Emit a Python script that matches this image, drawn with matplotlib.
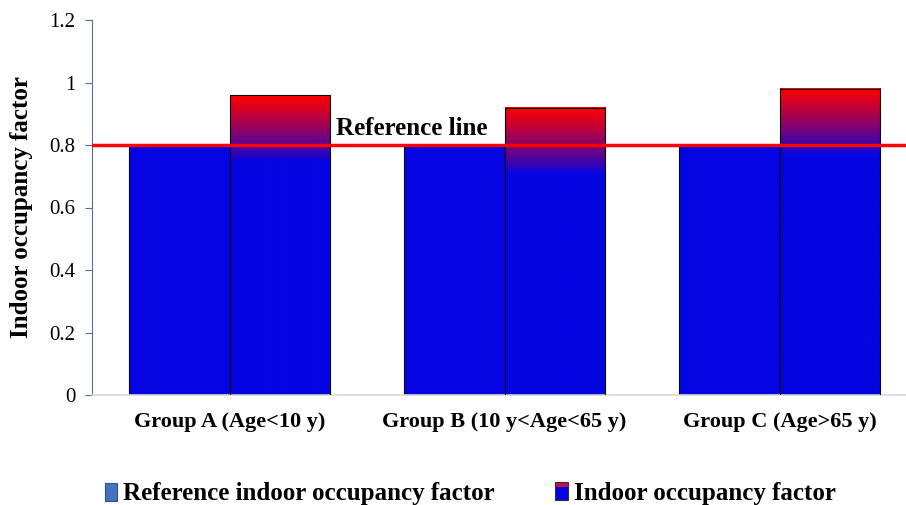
import matplotlib
matplotlib.use("Agg")
import matplotlib.pyplot as plt
import numpy as np
from matplotlib.patches import Rectangle, Patch
from matplotlib.legend_handler import HandlerBase

# ── data ─────────────────────────────────────────────────────────────────────
groups = ["Group A (Age<10 y)", "Group B (10 y<Age<65 y)", "Group C (Age>65 y)"]
reference_factor = [0.8, 0.8, 0.8]
indoor_factor = [0.96, 0.92, 0.98]
reference_line = 0.8
y_ticks = [0, 0.2, 0.4, 0.6, 0.8, 1.0, 1.2]
y_tick_labels = ["0", "0.2", "0.4", "0.6", "0.8", "1", "1.2"]

BLUE = "#0505e3"
RED = "#ff0000"
SERIF = ["Liberation Serif", "DejaVu Serif"]

plt.rcParams["font.family"] = SERIF

fig = plt.figure(figsize=(9.06, 5.05), dpi=100)
ax = fig.add_axes([92 / 906, 1 - 395 / 505, (917 - 92) / 906, 375 / 505])

x = np.arange(len(groups))
w = 0.365

# reference bars
ax.bar(x - w / 2, reference_factor, w, color=BLUE, edgecolor="black", linewidth=0.8, zorder=2)

# indoor bars with red-to-blue gradient at the top
c_blue = np.array(matplotlib.colors.to_rgb(BLUE))
c_red = np.array(matplotlib.colors.to_rgb(RED))
for xi, top in zip(x, indoor_factor):
    n = 300
    ys = np.linspace(0, top, n)
    t = np.clip((ys - (top - 0.21)) / 0.21, 0, 1)[:, None] ** 0.8
    img = (c_blue * (1 - t) + c_red * t)[:, None, :]
    ax.imshow(img, origin="lower", extent=(xi, xi + w, 0, top), aspect="auto",
              interpolation="bilinear", zorder=2)
    ax.add_patch(Rectangle((xi, 0), w, top, fc="none", ec="black", lw=0.8, zorder=3))

ax.axhline(reference_line, color=RED, lw=2.5, zorder=4)
ax.text(0.387, 0.852, "Reference line", fontsize=18, fontweight="bold", va="center", ha="left")

ax.set_xlim(-0.5, 2.5)
ax.set_ylim(0, 1.2)
ax.set_yticks(y_ticks)
ax.set_yticklabels(y_tick_labels, fontsize=15)
ax.set_xticks(x)
ax.set_xticklabels(groups, fontsize=16, fontweight="bold")
ax.tick_params(axis="x", length=0, pad=12)
ax.tick_params(axis="y", length=5, color="#4f6fa8", pad=7)
ax.set_ylabel("Indoor occupancy factor", fontsize=18, fontweight="bold", labelpad=12)

for s in ["top", "right"]:
    ax.spines[s].set_visible(False)
ax.spines["left"].set_color("#4f6fa8")
ax.spines["bottom"].set_color("#d9d9d9")
ax.spines["bottom"].set_linewidth(1.2)


class GradHandler(HandlerBase):
    def create_artists(self, legend, orig, xd, yd, wd, hd, fontsize, trans):
        lo = Rectangle((xd, yd), wd, hd * 0.7, fc=BLUE, ec="none", transform=trans)
        hi = Rectangle((xd, yd + hd * 0.7), wd, hd * 0.3, fc="#c0104a", ec="none", transform=trans)
        box = Rectangle((xd, yd), wd, hd, fc="none", ec="#333333", lw=0.8, transform=trans)
        return [lo, hi, box]


h_ref = Patch(fc="#4472c4", ec="#2f4f8f", lw=0.8)
h_ind = Patch(fc=BLUE)
fig.legend([h_ref, h_ind], ["Reference indoor occupancy factor", "Indoor occupancy factor"],
           handler_map={h_ind: GradHandler()}, loc="center", bbox_to_anchor=(0.519, 0.022),
           ncol=2, frameon=False, prop={"family": SERIF, "size": 18, "weight": "bold"},
           handlelength=0.5, handleheight=0.75, handletextpad=0.25, columnspacing=2.4)

fig.savefig("out.png", dpi=100)
